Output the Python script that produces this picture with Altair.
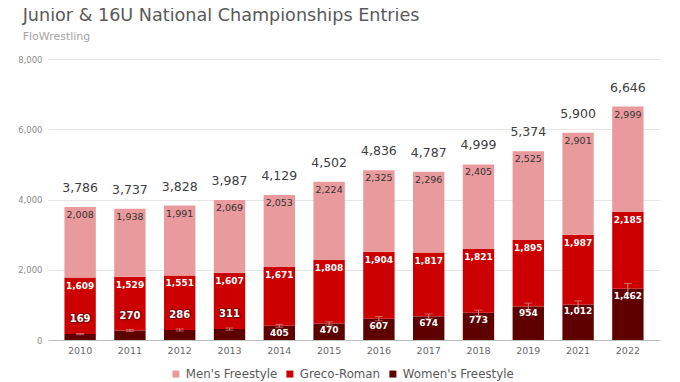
import altair as alt
import pandas as pd

years = ["2010", "2011", "2012", "2013", "2014", "2015", "2016", "2017", "2018", "2019", "2021", "2022"]
womens = [169, 270, 286, 311, 405, 470, 607, 674, 773, 954, 1012, 1462]
greco = [1609, 1529, 1551, 1607, 1671, 1808, 1904, 1817, 1821, 1895, 1987, 2185]
mens = [2008, 1938, 1991, 2069, 2053, 2224, 2325, 2296, 2405, 2525, 2901, 2999]
womens_err = [17, 27, 29, 31, 41, 47, 61, 67, 77, 95, 101, 146]

series = ["Men's Freestyle", "Greco-Roman", "Women's Freestyle"]
colors = ["#E89A9C", "#CC0000", "#5E0000"]

rows = []
for i, yr in enumerate(years):
    w, g, m = womens[i], greco[i], mens[i]
    rows.append({"year": yr, "series": "Women's Freestyle", "order": 0, "lo": 0, "hi": w, "val": w})
    rows.append({"year": yr, "series": "Greco-Roman", "order": 1, "lo": w, "hi": w + g, "val": g})
    rows.append({"year": yr, "series": "Men's Freestyle", "order": 2, "lo": w + g, "hi": w + g + m, "val": m})
df = pd.DataFrame(rows)

tot = pd.DataFrame({
    "year": years,
    "total": [womens[i] + greco[i] + mens[i] for i in range(len(years))],
    "w": womens,
    "wlo": [womens[i] - womens_err[i] for i in range(len(years))],
    "whi": [womens[i] + womens_err[i] for i in range(len(years))],
})

FONT = "DejaVu Sans"
xenc = alt.X("year:N", sort=years,
             scale=alt.Scale(paddingInner=0.37, paddingOuter=0.33),
             axis=alt.Axis(title=None, labelAngle=0, labelFontSize=9.5, labelColor="#6b6b6b",
                           labelFont=FONT, ticks=False, domainColor="#bfbfbf", labelPadding=5))
yscale = alt.Scale(domain=[0, 8000])

base = alt.Chart(df)

bars = base.mark_bar().encode(
    x=xenc,
    y=alt.Y("lo:Q", scale=yscale,
            axis=alt.Axis(title=None, values=[0, 2000, 4000, 6000, 8000], format=",.0f",
                          labelFontSize=8.5, labelColor="#8c8c8c", labelFont=FONT,
                          domain=False, ticks=False, gridColor="#e6e6e6", labelPadding=6)),
    y2="hi:Q",
    color=alt.Color("series:N", scale=alt.Scale(domain=series, range=colors),
                    legend=alt.Legend(title=None, orient="none", legendX=122, legendY=309,
                                      direction="horizontal", padding=0,
                                      symbolType="square", symbolSize=49, symbolStrokeWidth=0,
                                      labelFontSize=11.8, labelColor="#595959", labelFont=FONT,
                                      labelOffset=4, columnPadding=6)),
)

err = alt.Chart(tot).mark_rule(color="#D98888", strokeWidth=1).encode(
    x=alt.X("year:N", sort=years), y="wlo:Q", y2="whi:Q")
errcap_top = alt.Chart(tot).mark_tick(color="#D98888", thickness=1, size=8, orient="horizontal").encode(
    x=alt.X("year:N", sort=years), y="whi:Q")
errcap_bot = alt.Chart(tot).mark_tick(color="#D98888", thickness=1, size=8, orient="horizontal").encode(
    x=alt.X("year:N", sort=years), y="wlo:Q")

men_lab = base.transform_filter("datum.order == 2").mark_text(
    baseline="middle", dy=8, fontSize=9.5, color="#333333", font=FONT).encode(
    x=alt.X("year:N", sort=years), y="hi:Q", text=alt.Text("val:Q", format=",.0f"))
gr_lab = base.transform_filter("datum.order == 1").mark_text(
    baseline="middle", dy=8, fontSize=9, color="white", fontWeight="bold", font=FONT).encode(
    x=alt.X("year:N", sort=years), y="hi:Q", text=alt.Text("val:Q", format=",.0f"))
w_lab = base.transform_filter("datum.order == 0 && datum.val >= 400").mark_text(
    baseline="middle", dy=7, fontSize=9, color="white", fontWeight="bold", font=FONT).encode(
    x=alt.X("year:N", sort=years), y="hi:Q", text=alt.Text("val:Q", format=",.0f"))
w_small_outline = base.transform_filter("datum.order == 0 && datum.val < 400").mark_text(
    baseline="middle", dy=-15, fontSize=10, color="#8a0000", stroke="#8a0000", strokeWidth=2.5,
    fontWeight="bold", font=FONT).encode(
    x=alt.X("year:N", sort=years), y="hi:Q", text=alt.Text("val:Q", format=",.0f"))
w_small = base.transform_filter("datum.order == 0 && datum.val < 400").mark_text(
    baseline="middle", dy=-15, fontSize=10, color="white", fontWeight="bold", font=FONT).encode(
    x=alt.X("year:N", sort=years), y="hi:Q", text=alt.Text("val:Q", format=",.0f"))
tot_lab = alt.Chart(tot).mark_text(baseline="middle", dy=-19, fontSize=12.5, color="#404040", font=FONT).encode(
    x=alt.X("year:N", sort=years), y="total:Q", text=alt.Text("total:Q", format=",.0f"))

chart = alt.layer(bars, err, errcap_top, errcap_bot, men_lab, gr_lab, w_lab,
                  w_small_outline, w_small, tot_lab).properties(
    width=612, height=281,
    autosize=alt.AutoSizeParams(type="none"),
    padding={"left": 40, "top": 51, "right": 12, "bottom": 42},
    title=alt.TitleParams(
        "Junior & 16U National Championships Entries",
        subtitle="FloWrestling",
        anchor="start", frame="bounds", font=FONT, fontSize=17.6, fontWeight="normal",
        color="#595959", subtitleFont=FONT, subtitleFontSize=11, subtitleColor="#a6a6a6",
        subtitlePadding=6, offset=13, dx=5),
).configure_view(stroke=None)

chart.save("out.html", embed_options={"renderer": "svg", "actions": False})
